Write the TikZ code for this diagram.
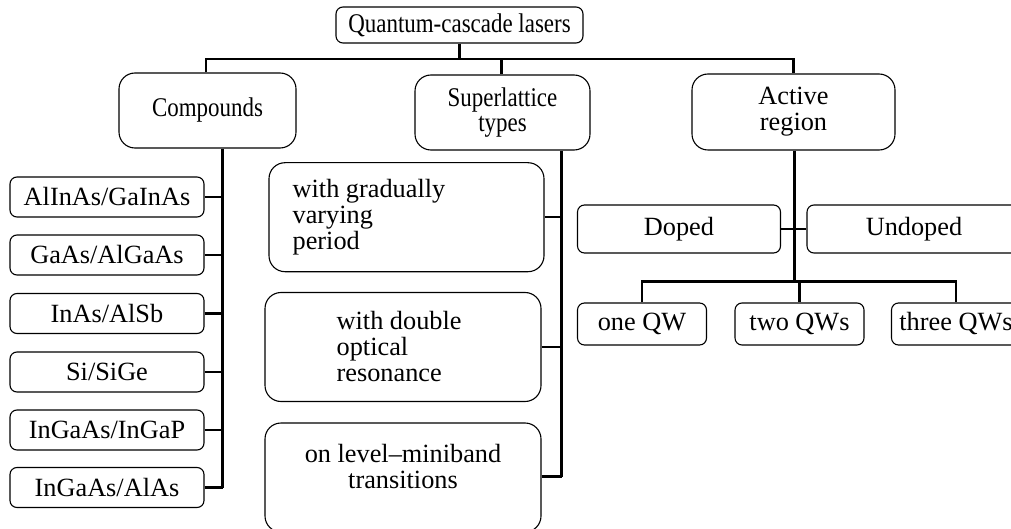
\documentclass[tikz,border=0pt]{standalone}
\usepackage{fontspec}
\setmainfont{Liberation Serif}
\newfontfamily\headfont[FakeStretch=0.85]{Liberation Serif}
\usetikzlibrary{positioning}

\begin{document}
\begin{tikzpicture}[x=1pt,y=-1pt,
   every node/.style={font=\fontsize{26.3}{26}\selectfont,inner sep=0pt},
   box/.style={draw,line width=1.1pt,rounded corners=7pt,align=center},
   bigbox/.style={box,rounded corners=16pt},
   head/.style={font=\headfont\fontsize{27}{25}\selectfont},
   conn/.style={line width=2.6pt}]
\useasboundingbox (0,0) rectangle (1011,529);
% top level
\node[box,head,minimum width=247pt,minimum height=36pt] (root) at (459.5,25) {Quantum-cascade lasers};
\node[bigbox,head,minimum width=177pt,minimum height=75pt] (comp) at (207.5,110.5) {Compounds};
\node[bigbox,head,minimum width=175pt,minimum height=75pt] (sup) at (502.5,112.5) {Superlattice\\types};
\node[bigbox,minimum width=203pt,minimum height=76pt] (act) at (793.5,112) {Active\\region};
\coordinate (bus) at (0,59);
\draw[conn] (root.south) -- (root.south |- bus);
\draw[conn] (206,0 |- comp.north) |- (bus -| act.north) -- (act.north);
\draw[conn] (501.7,0 |- sup.north) -- (501.7,0 |- bus);
% compounds
\coordinate (cl) at (222.5,0);
\foreach \name/\y/\txt in {c1/197/AlInAs\slash GaInAs,c2/255/GaAs\slash AlGaAs,
   c3/313.5/InAs\slash AlSb,c4/372/Si\slash SiGe,c5/430/InGaAs\slash InGaP,c6/487.5/InGaAs\slash AlAs}{
  \node[box,minimum width=194pt,minimum height=40pt] (\name) at (107,\y) {\txt};
  \draw[conn] (\name.east) -- (\name.east -| cl);
}
\draw[conn] (cl |- comp.south) -- (cl |- c6.east);
% superlattice types
\coordinate (sl) at (561.7,0);
\node[bigbox,minimum width=275pt,minimum height=109pt] (s1) at (406.5,217.2) {};
\node[anchor=west,align=left] at ([xshift=24pt]s1.west) {with gradually\\varying\\period};
\node[bigbox,minimum width=276pt,minimum height=109pt] (s2) at (403,347) {};
\node[anchor=west,align=left] at ([xshift=72pt]s2.west) {with double\\optical\\resonance};
\node[bigbox,minimum width=276pt,minimum height=109pt] (s3) at (403,477.5) {};
\node[anchor=north,align=center] at ([yshift=-22pt]s3.north) {on level--miniband\\transitions};
\foreach \name in {s1,s2}
  \draw[conn] (\name.east) -- (\name.east -| sl);
\draw[conn] (s3.east |- 0,476.7) -- (sl |- 0,476.7);
\draw[conn] (sl |- sup.south) -- (sl |- 0,476.7);
% active region
\node[box,minimum width=203pt,minimum height=48pt] (dop) at (679,229) {Doped};
\node[box,minimum width=214pt,minimum height=48pt] (undop) at (914,229) {Undoped};
\node[box,minimum width=129pt,minimum height=42pt] (qw1) at (642,324) {one QW};
\node[box,minimum width=129pt,minimum height=42pt] (qw2) at (799.5,324) {two QWs};
\node[box,minimum width=129pt,minimum height=42pt] (qw3) at (956,324) {three QWs};
\coordinate (al) at (794.5,281.7);
\draw[conn] (act.south -| al) -- (al);
\draw[conn] (dop.east) -- (undop.west);
\draw[conn] (qw1.north) |- (al) -| (qw3.north);
\draw[conn] (qw2.north) -- (qw2.north |- al);
\end{tikzpicture}
\end{document}
